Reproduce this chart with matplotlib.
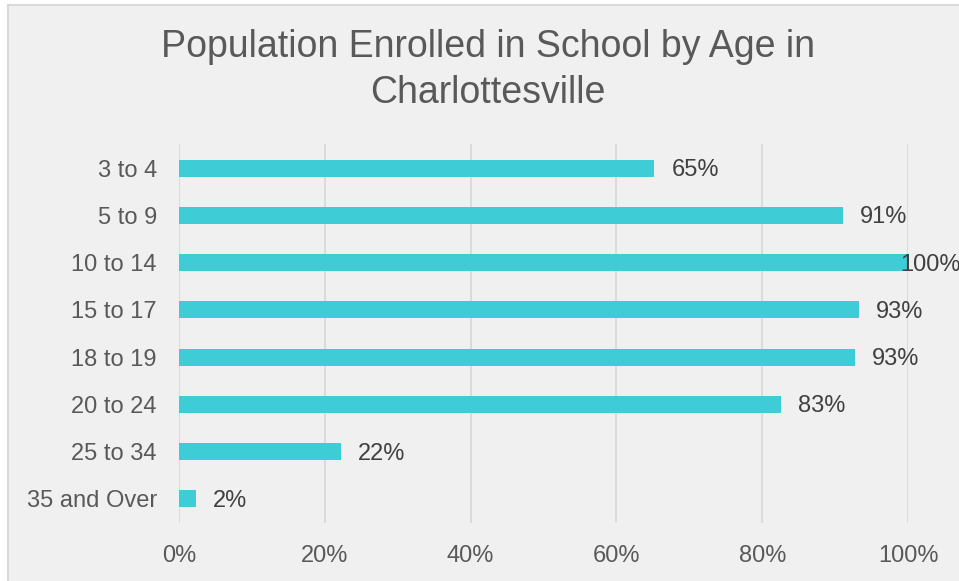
import matplotlib.pyplot as plt
from matplotlib.patches import Rectangle
import numpy as np

plt.rcParams['font.family'] = ['Liberation Sans', 'DejaVu Sans']

ages = ["3 to 4", "5 to 9", "10 to 14", "15 to 17", "18 to 19", "20 to 24", "25 to 34", "35 and Over"]
enrolled = [0.652, 0.911, 1.0, 0.933, 0.927, 0.826, 0.222, 0.023]
ticks = [0, 0.2, 0.4, 0.6, 0.8, 1.0]

bar_color = '#3ECDD6'
text_color = '#595959'
grid_color = '#D9D9D9'
bg_color = '#F0F0F0'

W, H = 959, 581
fig = plt.figure(figsize=(W / 100, H / 100), dpi=100)
fig.patch.set_facecolor('white')

# chart area panel with a thin border, running off the right/bottom edges
fig.patches.append(Rectangle((8 / W, -0.05), 1.1, 1 - 5 / H + 0.05, transform=fig.transFigure,
                             facecolor=bg_color, edgecolor=grid_color, linewidth=1.5, zorder=-10))

ax = fig.add_axes([179 / W, 1 - 522.6 / H, 729 / W, 378.2 / H])
ax.set_facecolor('none')

y = np.arange(len(ages))
ax.barh(y, enrolled, height=0.36, color=bar_color, zorder=3)
ax.set_ylim(len(ages) - 0.5, -0.5)
ax.set_xlim(0, 1.0)

ax.set_xticks(ticks)
ax.set_xticklabels([f"{int(round(t * 100))}%" for t in ticks])
ax.set_yticks(y)
ax.set_yticklabels(ages)
ax.tick_params(axis='both', length=0, labelsize=17, labelcolor=text_color)
ax.tick_params(axis='x', pad=16)
ax.tick_params(axis='y', pad=16)
ax.grid(axis='x', color=grid_color, linewidth=1.3, zorder=0)
ax.set_axisbelow(True)
for s in ax.spines.values():
    s.set_visible(False)

for i, v in enumerate(enrolled):
    dx = -8 if v >= 0.995 else 17
    ax.annotate(f"{v:.0%}", xy=(v, i), xytext=(dx, -2), textcoords='offset pixels',
                ha='left', va='center', fontsize=17, color='#404040',
                annotation_clip=False, zorder=4)

fig.text(488 / W, 1 - 70 / H, "Population Enrolled in School by Age in\nCharlottesville",
         ha='center', va='center', fontsize=27, color=text_color, linespacing=1.33)

fig.savefig('out.png', dpi=100, facecolor=fig.get_facecolor())
